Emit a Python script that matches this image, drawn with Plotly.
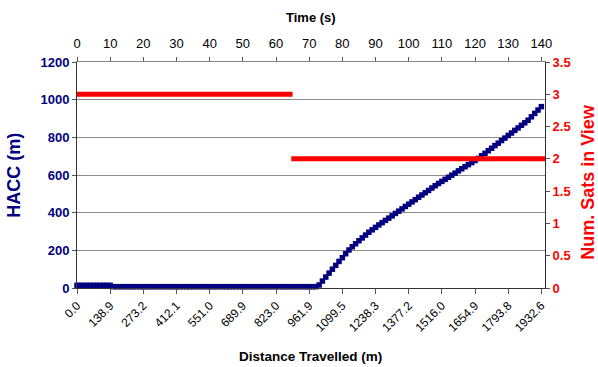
import plotly.graph_objects as go

# ---- data ----
time_s = list(range(0, 141))  # one sample per second
hacc_m = [
    14, 14, 14, 14, 14, 14, 14, 14, 14, 14, 14,
    7, 7, 7, 7, 7, 7, 7, 7, 7, 7, 7, 7, 7, 7, 7, 7, 7, 7, 7, 7, 7,
    7, 7, 7, 7, 7, 7, 7, 7, 7, 7, 7, 7, 7, 7, 7, 7, 7, 7, 7, 7, 7,
    7, 7, 7, 7, 7, 7, 7, 7, 7, 7, 7, 7, 7, 7, 7, 7, 7, 7, 7, 7,
    16, 37, 58, 79, 100, 120, 141, 161, 182, 202,
    219, 235, 251, 266, 281, 296, 309, 322, 335, 347, 359, 371,
    383, 396, 408, 420, 433, 445, 457, 469, 482, 494, 506, 518, 531, 543, 555,
    566, 577, 588, 599, 610, 622, 633, 644, 655, 666, 677, 688,
    702, 715, 729, 742, 756, 769, 783, 796, 810, 823, 837, 850, 864, 877, 891,
    909, 927, 945, 963,
]
sats_time_a = [0, 65]
sats_a = [3, 3]
sats_time_b = [64.6, 141.1]
sats_b = [2, 2]

time_ticks = [0, 10, 20, 30, 40, 50, 60, 70, 80, 90, 100, 110, 120, 130, 140]
distance_labels = ["0.0", "138.9", "273.2", "412.1", "551.0", "689.9", "823.0",
                   "961.9", "1099.5", "1238.3", "1377.2", "1516.0", "1654.9",
                   "1793.8", "1932.6"]

X_RANGE = [0, 141.1]
FONT = "Liberation Sans, Arial, sans-serif"
NAVY = "#000080"
RED = "#FF0000"

fig = go.Figure()
# satellites in view (right axis)
fig.add_trace(go.Scatter(
    x=sats_time_a, y=sats_a, mode="lines", xaxis="x2", yaxis="y2",
    line=dict(color=RED, width=5), showlegend=False))
fig.add_trace(go.Scatter(
    x=sats_time_b, y=sats_b, mode="lines", xaxis="x2", yaxis="y2",
    line=dict(color=RED, width=5), cliponaxis=False, showlegend=False))
# HACC vs time (left HACC axis)
fig.add_trace(go.Scatter(
    x=time_s, y=hacc_m, mode="lines+markers", xaxis="x", yaxis="y",
    line=dict(color=NAVY, width=2.5),
    marker=dict(symbol="square", size=5.5, color=NAVY),
    cliponaxis=False, showlegend=False, hoverinfo="x+y"))

fig.update_layout(
    width=598, height=367,
    margin=dict(l=77, r=53, t=62, b=79, pad=0),
    paper_bgcolor="white", plot_bgcolor="white",
    font=dict(family=FONT, size=13, color="black"),
    showlegend=False,
    xaxis=dict(
        range=X_RANGE, tickmode="array", tickvals=time_ticks, ticktext=distance_labels,
        tickangle=-45, ticks="outside", ticklen=5, tickcolor="#555",
        showline=True, linecolor="#333", linewidth=1, showgrid=False, zeroline=False,
        tickfont=dict(family=FONT, size=12, color="black"), anchor="y"),
    xaxis2=dict(
        range=X_RANGE, overlaying="x", side="top", anchor="y2",
        tickmode="array", tickvals=time_ticks,
        ticks="outside", ticklen=4, tickcolor="#555", ticklabelstandoff=4,
        showline=True, linecolor="#888", linewidth=1, showgrid=False, zeroline=False,
        tickfont=dict(family=FONT, size=13, color="black")),
    yaxis=dict(
        range=[0, 1200], dtick=200, ticks="outside", ticklen=4, tickcolor="#555",
        showline=True, linecolor="#333", linewidth=1,
        showgrid=True, gridcolor="#8c8c8c", gridwidth=1, zeroline=False,
        tickfont=dict(family=FONT, size=13, color=NAVY, weight="bold"), anchor="x"),
    yaxis2=dict(
        range=[0, 3.5], dtick=0.5, overlaying="y", side="right", anchor="x",
        ticks="outside", ticklen=4, tickcolor="#555",
        showline=True, linecolor="#333", linewidth=1, showgrid=False, zeroline=False,
        tickfont=dict(family=FONT, size=13, color=RED, weight="bold")),
)

annots = [
    dict(text="<b>Time (s)</b>", x=0.5, y=1.199, font=dict(size=13, color="black"), textangle=0),
    dict(text="<b>Distance Travelled (m)</b>", x=0.498, y=-0.305, font=dict(size=13.5, color="black"), textangle=0),
    dict(text="<b>HACC (m)</b>", x=-0.135, y=0.5, font=dict(size=18, color=NAVY), textangle=-90),
    dict(text="<b>Num. Sats in View</b>", x=1.092, y=0.47, font=dict(size=18, color=RED), textangle=-90),
]
for a in annots:
    fig.add_annotation(xref="paper", yref="paper", showarrow=False,
                       xanchor="center", yanchor="middle",
                       font_family=FONT, **a)

fig.write_html("out.html", config={"displayModeBar": False},
               post_script="document.body.style.margin='0';document.body.style.overflow='hidden';")
